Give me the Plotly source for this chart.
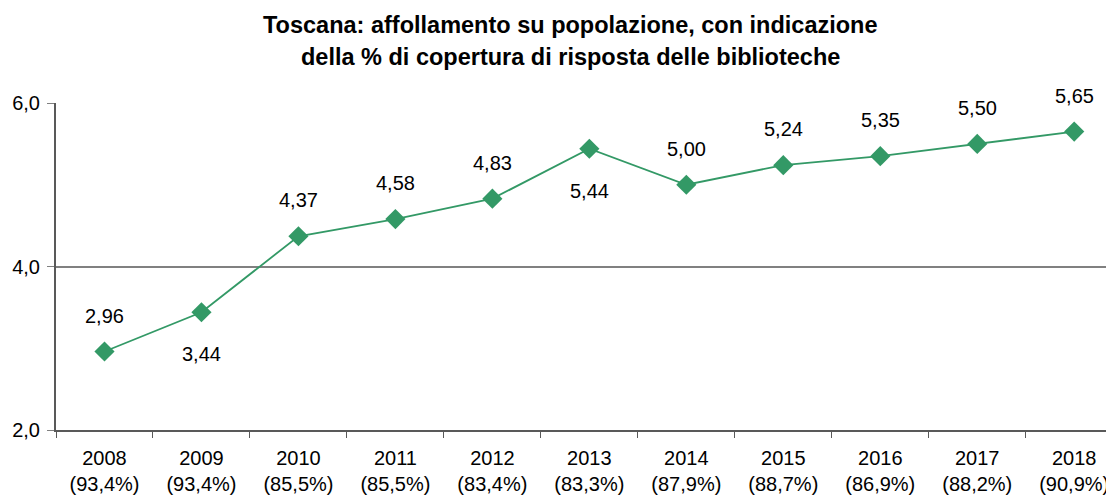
import plotly.graph_objects as go

years = ["2008", "2009", "2010", "2011", "2012", "2013", "2014", "2015", "2016", "2017", "2018"]
coverage = ["93,4%", "93,4%", "85,5%", "85,5%", "83,4%", "83,3%", "87,9%", "88,7%", "86,9%", "88,2%", "90,9%"]
values = [2.96, 3.44, 4.37, 4.58, 4.83, 5.44, 5.00, 5.24, 5.35, 5.50, 5.65]
label_below = [False, True, False, False, False, True, False, False, False, False, False]
title_lines = ["Toscana: affollamento su popolazione, con indicazione",
               "della % di copertura di risposta delle biblioteche"]

green = "#339966"
FONT = "Liberation Sans, Arial, sans-serif"
cats = [f"{y}<br>({c})" for y, c in zip(years, coverage)]

fig = go.Figure()
fig.add_trace(go.Scatter(
    x=cats, y=values, mode="lines+markers",
    line=dict(color=green, width=1.8),
    marker=dict(symbol="diamond", size=15.5, color=green),
    hoverinfo="skip", showlegend=False, cliponaxis=False,
))

for c, v, below in zip(cats, values, label_below):
    fig.add_annotation(
        x=c, y=v, text=f"{v:.2f}".replace(".", ","), showarrow=False,
        yshift=-42 if below else 36,
        font=dict(family=FONT, size=20, color="#000000"),
    )

for txt, yp in zip(title_lines, [1.240, 1.1407]):
    fig.add_annotation(
        xref="paper", yref="paper", x=0.4867, y=yp, xanchor="center", yanchor="middle",
        text=f"<b>{txt}</b>", showarrow=False,
        font=dict(family=FONT, size=23.5, color="#000000"),
    )

fig.update_layout(
    width=1106, height=489,
    margin=dict(l=48, r=1, t=95, b=67),
    paper_bgcolor="white", plot_bgcolor="white",
    separators=",.",
    font=dict(family=FONT, size=20, color="#000000"),
    xaxis=dict(
        type="category", tickson="boundaries", ticks="outside", ticklen=6,
        tickcolor="#595959", showline=True, linecolor="#595959", linewidth=2,
        showgrid=False, range=[-0.5, 10.4], tickfont=dict(size=20),
        ticklabelstandoff=9, automargin=False,
    ),
    yaxis=dict(
        range=[2, 6], dtick=2, tick0=2, tickformat=".1f", ticks="outside", ticklen=7,
        tickcolor="#808080", showline=True, linecolor="#595959", linewidth=2,
        showgrid=True, gridcolor="#808080", gridwidth=2, zeroline=False,
        tickfont=dict(size=20), ticklabelstandoff=3, automargin=False,
    ),
)

fig.write_html("out.html")
